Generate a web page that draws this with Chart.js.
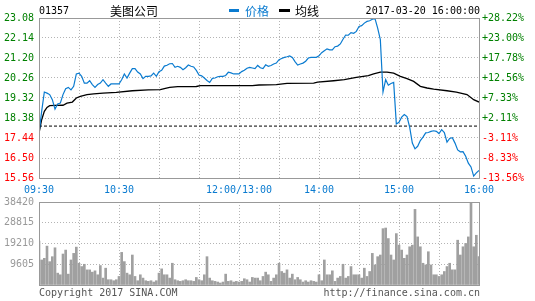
<!DOCTYPE html>
<html><head><meta charset="utf-8">
<script src="https://cdn.jsdelivr.net/npm/chart.js@4.4.0/dist/chart.umd.min.js"></script>
<style>
html,body{margin:0;padding:0;background:#fff;}
#wrap{position:relative;width:535px;height:301px;overflow:hidden;background:#fff;}
canvas{position:absolute;left:0;}
.t{position:absolute;white-space:nowrap;line-height:14px;font-family:"DejaVu Sans Mono",monospace;font-size:10px;color:#000;}
.cjk{font-family:"Noto Sans CJK SC",sans-serif;font-size:12px;}
.bar{position:absolute;height:3px;}
</style></head><body>
<div id="wrap">
<canvas id="price" width="535" height="195" style="top:0;width:535px;height:195px"></canvas>
<canvas id="vol" width="535" height="110" style="top:191px;width:535px;height:110px"></canvas>
<div class="t" style="left:39px;top:4px">01357</div>
<div class="t cjk" style="left:110px;top:4px">美图公司</div>
<div class="bar" style="left:229px;top:9px;width:10px;background:#0a7bd0"></div>
<div class="t cjk" style="left:245px;top:4px;color:#0a7bd0">价格</div>
<div class="bar" style="left:279px;top:9px;width:11px;background:#000"></div>
<div class="t cjk" style="left:295px;top:4px">均线</div>
<div class="t" style="right:55px;top:4px">2017-03-20 16:00:00</div>
<div class="t" style="left:39px;top:286px;color:#555">Copyright 2017 SINA.COM</div>
<div class="t" style="right:55px;top:286px;color:#555">http://finance.sina.com.cn</div>
</div>
<script>
// ---- data ----
const STEP = 2; // minutes between samples
const prevClose = 18.00;
const priceTicks = [15.56, 16.50, 17.44, 18.38, 19.32, 20.26, 21.20, 22.14, 23.08];
const volTicks = [0, 9605, 19210, 28815, 38420];
const timeTickMinutes = [0, 30, 60, 90, 120, 150, 180, 210, 240, 270, 300, 330];
const timeTickLabels = ['09:30', '', '10:30', '', '', '12:00/13:00', '', '14:00', '', '15:00', '', '16:00'];

const priceValues = [
  17.67, 18.69, 19.60, 19.55, 19.48, 19.24, 18.80, 19.04, 19.08, 19.48,
  19.76, 19.82, 19.70, 19.87, 20.45, 20.49, 20.34, 20.02, 20.02, 20.13,
  19.95, 19.82, 19.95, 20.02, 20.18, 20.02, 19.87, 19.98, 19.98, 19.98,
  19.98, 20.18, 20.45, 20.26, 20.49, 20.70, 20.70, 20.54, 20.45, 20.23,
  20.34, 20.34, 20.36, 20.49, 20.34, 20.56, 20.62, 20.82, 20.86, 20.93,
  20.94, 20.76, 20.81, 20.76, 20.65, 20.74, 20.87, 20.81, 20.78, 20.62,
  20.40, 20.36, 20.26, 20.14, 20.05, 20.24, 20.26, 20.32, 20.34, 20.34,
  20.38, 20.53, 20.50, 20.45, 20.45, 20.45, 20.56, 20.62, 20.72, 20.76,
  20.73, 20.70, 20.85, 20.74, 20.70, 20.88, 20.81, 20.85, 20.92, 20.96,
  21.12, 21.18, 21.23, 21.26, 21.30, 21.23, 21.03, 20.87, 20.92, 20.96,
  21.05, 21.20, 21.23, 21.23, 21.23, 21.30, 21.45, 21.54, 21.63, 21.58,
  21.58, 21.73, 21.76, 21.86, 22.08, 22.28, 22.27, 22.39, 22.36, 22.45,
  22.68, 22.72, 22.84, 22.92, 22.95, 23.02, 23.05, 22.60, 22.06, 19.60,
  20.18, 19.92, 20.00, 20.05, 18.10, 18.18, 18.42, 18.54, 18.45, 17.95,
  17.20, 16.93, 17.05, 17.32, 17.48, 17.68, 17.70, 17.75, 17.78, 17.75,
  17.65, 17.83, 17.70, 17.25, 17.42, 17.45, 17.20, 16.88, 16.79, 16.80,
  16.58, 16.26, 16.08, 15.65, 15.80, 15.91
];

const avgMinutes = [0, 1, 2, 4, 6, 8, 12, 18, 21, 25, 28, 31, 36, 41, 48, 58, 70, 82, 91, 94,
  98, 104, 118, 121, 160, 165, 178, 186, 206, 209, 221, 229, 238, 247, 251, 256, 261, 266, 271, 276,
  281, 286, 291, 296, 306, 313, 321, 326, 330];
const avgValues = [17.67, 17.99, 18.30, 18.69, 18.88, 18.96, 18.97, 18.98, 19.08, 19.13,
  19.32, 19.40, 19.48, 19.51, 19.55, 19.58, 19.66, 19.70, 19.71, 19.76,
  19.82, 19.85, 19.86, 19.90, 19.90, 19.93, 19.95, 20.01, 20.02, 20.07,
  20.13, 20.18, 20.29, 20.37, 20.45, 20.54, 20.54, 20.49, 20.34, 20.23,
  20.10, 19.87, 19.79, 19.74, 19.66, 19.60, 19.48, 19.24, 19.13];

const volumeValues = [
  20280, 11590, 12350, 18000, 10800, 13100, 17230, 5490, 4730, 14340,
  16170, 5030, 11590, 14640, 17540, 10070, 8540, 9600, 7000, 7000,
  5950, 6560, 4730, 9000, 3200, 7780, 2440, 2440, 1980, 2440,
  3960, 15100, 10830, 5490, 4730, 13880, 3960, 1980, 4730, 3200,
  1980, 1680, 1980, 1370, 1980, 5490, 7470, 4730, 4730, 3200,
  10070, 2440, 1980, 1680, 1980, 2440, 1980, 1980, 1680, 3500,
  2440, 1980, 4730, 13110, 3200, 1980, 1680, 1370, 920, 1370,
  5030, 1680, 1980, 1370, 1680, 1370, 1680, 2900, 2440, 1370,
  3500, 3200, 3200, 1980, 3960, 5950, 4730, 1680, 3200, 4730,
  10070, 6250, 5490, 7020, 3200, 5030, 2440, 3500, 2440, 1370,
  1980, 1370, 1980, 1680, 1370, 4730, 1980, 11590, 4730, 4730,
  6560, 1680, 3200, 3960, 9610, 3200, 3960, 8540, 4730, 4730,
  4730, 3200, 7780, 3960, 6250, 14640, 9300, 13110, 13880, 26080,
  26380, 21500, 13880, 11590, 23790, 18450, 16170, 12350, 13880, 17690,
  18450, 35000, 22260, 17690, 10070, 9300, 15400, 9300, 4730, 4730,
  3960, 4730, 6250, 8540, 10070, 7020, 7020, 20740, 13880, 17690,
  19220, 22260, 38280, 17690, 23030, 13110
];

// ---- styles ----
const BLUE = '#0a7bd0';
const GRID = '#b4b4b4';
const FONT = {family: 'DejaVu Sans Mono', size: 10};
const xMin = timeTickMinutes[0], xMax = timeTickMinutes[timeTickMinutes.length - 1];

const boxPlugin = {
  id: 'box',
  afterDraw(chart) {
    const {ctx, chartArea: a} = chart;
    ctx.save();
    ctx.setLineDash([]);
    ctx.strokeStyle = '#999';
    ctx.lineWidth = 1;
    const l = Math.round(a.left), t = Math.round(a.top), r = Math.round(a.right), b = Math.round(a.bottom);
    ctx.strokeRect(l + 0.5, t + 0.5, r - l, b - t);
    ctx.restore();
  }
};

const timeAxis = (showLabels, h) => ({
  type: 'linear', min: xMin, max: xMax, offset: false,
  afterBuildTicks: s => { s.ticks = timeTickMinutes.map(v => ({value: v})); },
  afterFit: s => { s.height = h; },
  ticks: {display: showLabels, autoSkip: false, maxRotation: 0, padding: 6, color: BLUE, font: FONT,
    callback: (v, i) => timeTickLabels[i]},
  grid: {color: GRID, drawTicks: false, offset: false},
  border: {display: false, dash: [1, 2]}
});

new Chart(document.getElementById('price'), {
  type: 'line',
  data: {datasets: [
    {label: '价格', data: priceValues.map((v, i) => ({x: i * STEP, y: v})), borderColor: BLUE, borderWidth: 1.2, pointRadius: 0, tension: 0},
    {label: '均线', data: avgMinutes.map((m, i) => ({x: m, y: avgValues[i]})), borderColor: '#000', borderWidth: 1.3, pointRadius: 0, tension: 0},
    {label: '昨收', data: [{x: xMin, y: prevClose}, {x: xMax, y: prevClose}], borderColor: '#000', borderWidth: 1, borderDash: [3, 2], pointRadius: 0}
  ]},
  options: {
    responsive: false, animation: false,
    layout: {padding: {top: 18, left: 0, right: 0, bottom: 0}},
    plugins: {legend: {display: false}, tooltip: {enabled: false}},
    scales: {
      x: timeAxis(true, 17),
      y: {
        position: 'left', min: priceTicks[0], max: priceTicks[priceTicks.length - 1],
        afterBuildTicks: s => { s.ticks = priceTicks.map(v => ({value: v})); },
        afterFit: s => { s.width = 39; },
        ticks: {padding: 5, font: FONT, callback: v => v.toFixed(2),
          color: c => c.tick.value >= prevClose ? '#008000' : '#ff0000'},
        grid: {color: GRID, drawTicks: false},
        border: {display: false, dash: [1, 2]}
      },
      y1: {
        position: 'right', min: priceTicks[0], max: priceTicks[priceTicks.length - 1],
        afterBuildTicks: s => { s.ticks = priceTicks.map(v => ({value: v})); },
        afterFit: s => { s.width = 56; },
        ticks: {padding: 3, font: FONT,
          callback: v => { const p = (v / prevClose - 1) * 100; return (p >= 0 ? '+' : '') + p.toFixed(2) + '%'; },
          color: c => c.tick.value >= prevClose ? '#008000' : '#ff0000'},
        grid: {display: false, drawTicks: false},
        border: {display: false}
      }
    }
  },
  plugins: [boxPlugin]
});

new Chart(document.getElementById('vol'), {
  type: 'bar',
  data: {datasets: [
    {label: '成交量', data: volumeValues.map((v, i) => ({x: i * STEP, y: v})), backgroundColor: '#a0a0a0', barThickness: 2}
  ]},
  options: {
    responsive: false, animation: false,
    layout: {padding: {top: 10, left: 0, right: 56, bottom: 0}},
    plugins: {legend: {display: false}, tooltip: {enabled: false}},
    scales: {
      x: timeAxis(false, 16),
      y: {
        position: 'left', min: volTicks[0], max: volTicks[volTicks.length - 1],
        afterBuildTicks: s => { s.ticks = volTicks.map(v => ({value: v})); },
        afterFit: s => { s.width = 39; },
        ticks: {padding: 5, font: FONT, color: '#999', callback: v => v === 0 ? '' : String(v)},
        grid: {color: GRID, drawTicks: false},
        border: {display: false, dash: [1, 2]}
      }
    }
  },
  plugins: [boxPlugin]
});
</script>
</body></html>
